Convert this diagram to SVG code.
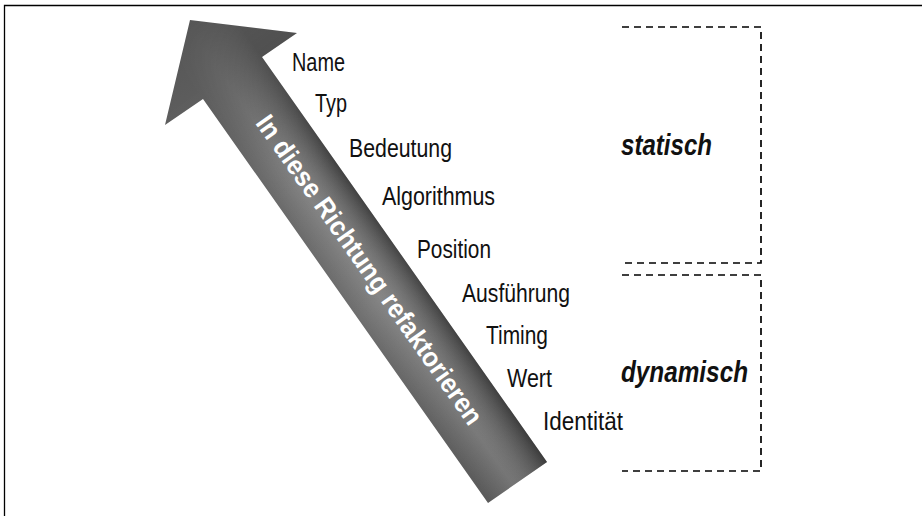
<svg xmlns="http://www.w3.org/2000/svg" width="922" height="516" viewBox="0 0 922 516">
<defs>
<linearGradient id="along" gradientUnits="userSpaceOnUse" x1="190.5" y1="20.2" x2="517" y2="483">
<stop offset="0" stop-color="#565656"/>
<stop offset="0.3" stop-color="#676767"/>
<stop offset="0.6" stop-color="#6c6c6c"/>
<stop offset="1" stop-color="#575757"/>
</linearGradient>
<linearGradient id="across" gradientUnits="userSpaceOnUse" x1="203" y1="99" x2="262" y2="57">
<stop offset="0" stop-color="#fff" stop-opacity="0.02"/>
<stop offset="0.4" stop-color="#fff" stop-opacity="0.18"/>
<stop offset="1" stop-color="#000" stop-opacity="0.4"/>
</linearGradient>
<linearGradient id="fade" gradientUnits="userSpaceOnUse" x1="190.5" y1="20.2" x2="517" y2="483">
<stop offset="0" stop-color="#fff" stop-opacity="0"/>
<stop offset="0.15" stop-color="#fff" stop-opacity="0.4"/>
<stop offset="0.35" stop-color="#fff" stop-opacity="1"/>
</linearGradient>
<mask id="m" maskUnits="userSpaceOnUse" x="0" y="0" width="922" height="516">
<rect x="0" y="0" width="922" height="516" fill="url(#fade)"/>
</mask>
</defs>
<style>
.frame{fill:none;stroke:#000;stroke-width:1.3}
.dash{fill:none;stroke:#000;stroke-width:1.7;stroke-dasharray:7 5}
.lbl{font-family:"Liberation Sans",Arial,sans-serif;font-size:25px;fill:#111}
.cat{font-family:"Liberation Sans",Arial,sans-serif;font-size:29px;font-weight:bold;font-style:italic;fill:#111}
.arr{font-family:"Liberation Sans",Arial,sans-serif;font-size:27px;font-weight:bold;fill:#fff}
</style>
<path class="frame" d="M4.5,516 V5.5 H922"/>
<g id="arrow">
<polygon points="190,20 297,33 262,57 547,462 488,503 203,99 165,125" fill="url(#along)"/>
<polygon points="190,20 297,33 262,57 547,462 488,503 203,99 165,125" fill="url(#across)" mask="url(#m)"/>
<text class="arr" x="0" y="0" text-anchor="middle" textLength="372" lengthAdjust="spacingAndGlyphs" transform="translate(362,275) rotate(54.8)">In diese Richtung refaktorieren</text>
</g>
<g id="labels">
<text class="lbl" x="292" y="71" textLength="53" lengthAdjust="spacingAndGlyphs">Name</text>
<text class="lbl" x="315" y="112" textLength="32" lengthAdjust="spacingAndGlyphs">Typ</text>
<text class="lbl" x="349" y="157" textLength="103" lengthAdjust="spacingAndGlyphs">Bedeutung</text>
<text class="lbl" x="382" y="205" textLength="113" lengthAdjust="spacingAndGlyphs">Algorithmus</text>
<text class="lbl" x="417" y="258" textLength="74" lengthAdjust="spacingAndGlyphs">Position</text>
<text class="lbl" x="462" y="302" textLength="108" lengthAdjust="spacingAndGlyphs">Ausführung</text>
<text class="lbl" x="486" y="344" textLength="62" lengthAdjust="spacingAndGlyphs">Timing</text>
<text class="lbl" x="507" y="387" textLength="45" lengthAdjust="spacingAndGlyphs">Wert</text>
<text class="lbl" x="543" y="430" textLength="80" lengthAdjust="spacingAndGlyphs">Identität</text>
</g>
<g id="statisch">
<path class="dash" d="M622,27 H761 V263 H622"/>
<text class="cat" x="621" y="155" textLength="91" lengthAdjust="spacingAndGlyphs">statisch</text>
</g>
<g id="dynamisch">
<path class="dash" d="M622,275 H761 V471 H622"/>
<text class="cat" x="621" y="382" textLength="127" lengthAdjust="spacingAndGlyphs">dynamisch</text>
</g>
</svg>
